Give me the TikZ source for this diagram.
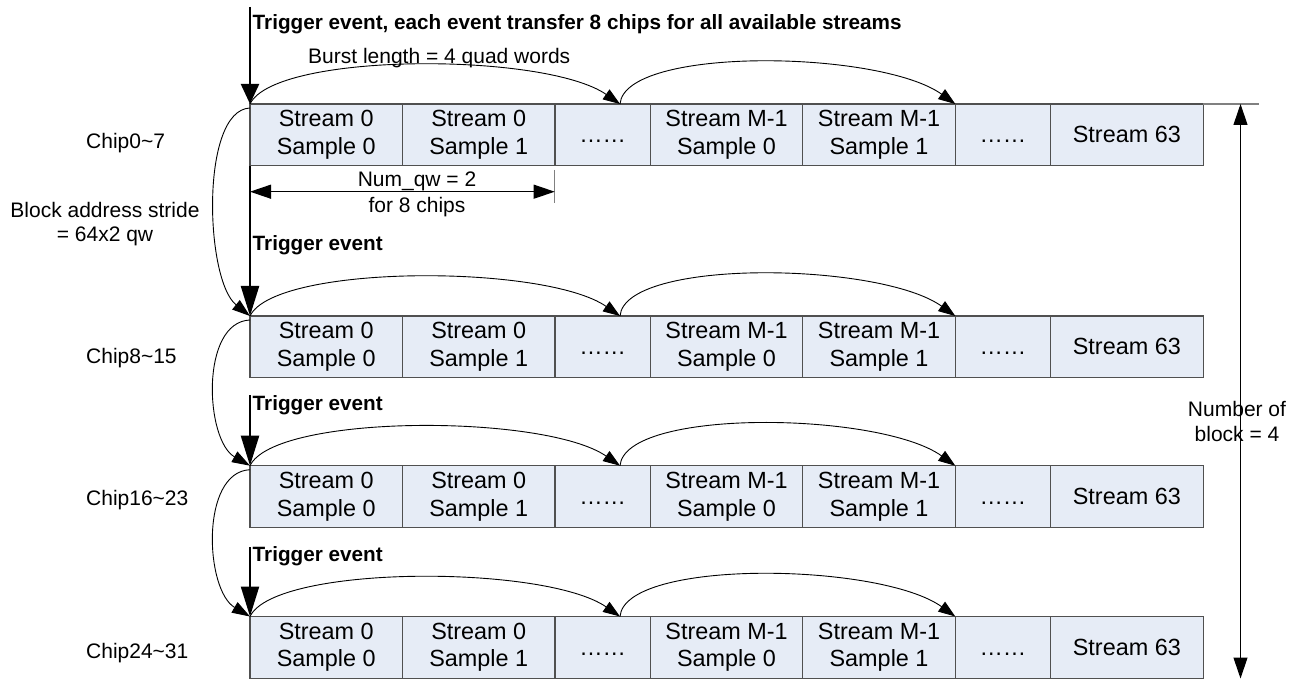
\documentclass[tikz,border=0pt]{standalone}
\usepackage{fontspec}
\setmainfont{Liberation Sans}
\usetikzlibrary{arrows.meta}
\definecolor{cellfill}{RGB}{230,236,246}
\definecolor{cellline}{RGB}{80,80,80}
\definecolor{extline}{RGB}{128,128,128}

\begin{document}
\begin{tikzpicture}[x=1pt,y=-1pt,
  cell/.style={draw=cellline, line width=1.1pt, fill=cellfill,
    minimum height=61.7pt, inner sep=0pt, outer sep=0pt, align=center,
    anchor=north west, font=\fontsize{23.4}{27.7}\selectfont},
  wide/.style={minimum width=152.5pt},
  narrow/.style={minimum width=95.3pt},
  lbl/.style={font=\fontsize{21}{25}\selectfont, inner sep=0pt},
  blbl/.style={font=\fontsize{20.7}{25}\selectfont\bfseries, inner sep=0pt, anchor=base west},
  trig/.style={line width=2.2pt, -{Triangle[length=30pt,width=18pt]}},
  trigfirst/.style={line width=2.2pt, -{Triangle[length=20pt,width=18pt]}},
  burst/.style={line width=0.9pt, -{Triangle[length=17pt,width=12pt]}},
  stride/.style={line width=0.9pt, -{Triangle[length=18pt,width=12pt]}},
  dimline/.style={line width=1.1pt,
    {Triangle[length=21pt,width=14pt]}-{Triangle[length=21pt,width=14pt]}},
  tickline/.style={draw=extline, line width=1.1pt}]

\useasboundingbox (0,0) rectangle (1299,679);

% one row of quad words per block of 8 chips
\foreach \row/\yy/\chip/\cb in {1/104/Chip0\textasciitilde 7/149,
                                2/316/Chip8\textasciitilde 15/363,
                                3/465.7/Chip16\textasciitilde 23/505.7,
                                4/616.5/Chip24\textasciitilde 31/658}{
  \node[cell,wide]   (r\row-c1) at (250,\yy) {Stream 0\\Sample 0};
  \node[cell,wide]   (r\row-c2) at (r\row-c1.north east) {Stream 0\\Sample 1};
  \node[cell,narrow] (r\row-c3) at (r\row-c2.north east) {\vphantom{S}……};
  \node[cell,wide]   (r\row-c4) at (r\row-c3.north east) {Stream M-1\\Sample 0};
  \node[cell,wide]   (r\row-c5) at (r\row-c4.north east) {Stream M-1\\Sample 1};
  \node[cell,narrow] (r\row-c6) at (r\row-c5.north east) {\vphantom{S}……};
  \node[cell,wide]   (r\row-c7) at (r\row-c6.north east) {Stream 63};
  \node[lbl, anchor=base west] (chip\row) at (86,\cb) {\chip};
  % burst transfers along the row
  \coordinate (m\row) at (620,\yy);
  \draw[burst] (r\row-c1.north west) .. controls (275,\yy-52) and (545,\yy-52) .. (m\row);
  \draw[burst] (m\row) .. controls (625,\yy-58) and (880,\yy-54) .. (r\row-c5.north east);
}

% trigger events
\coordinate (t1) at (250,7);
\coordinate (t3) at (250,395);
\coordinate (t4) at (250,547);
\draw[trigfirst] (t1) -- (r1-c1.north west);
\draw[trig] (r1-c1.south west) -- (r2-c1.north west);
\draw[trig] (t3) -- (r3-c1.north west);
\draw[trig] (t4) -- (r4-c1.north west);

\node[blbl] (trg1) at (252.5,30) {Trigger event, each event transfer 8 chips for all available streams};
\node[blbl] (trg2) at (252.5,250.7) {Trigger event};
\node[blbl] (trg3) at (252.5,410) {Trigger event};
\node[blbl] (trg4) at (252.5,561.7) {Trigger event};

\node[lbl, anchor=base west] (burstlbl) at (308,63.3) {Burst length = 4 quad words};

% block address stride
\draw[stride] ([yshift=-4pt]r1-c1.north west) .. controls (200,110) and (205,280) .. (r2-c1.north west);
\draw[stride] ([yshift=-4pt]r2-c1.north west) .. controls (200,322) and (205,440) .. (r3-c1.north west);
\draw[stride] ([yshift=-4pt]r3-c1.north west) .. controls (200,472) and (205,590) .. (r4-c1.north west);
\node[lbl, anchor=base] (stride1) at (105,218) {Block address stride};
\node[lbl, anchor=base] (stride2) at (105,242) {= 64x2 qw};

% Num_qw span
\coordinate (q0) at (250,191.7);
\coordinate (q1) at (554.7,191.7);
\coordinate (qa) at (554.7,170);
\coordinate (qb) at (554.7,203);
\draw[tickline] (qa) -- (qb);
\draw[dimline] (q0) -- (q1);
\node[lbl, anchor=base] (nq1) at (417,186.5) {Num\_qw = 2};
\node[lbl, anchor=base] (nq2) at (417,213) {for 8 chips};

% number of blocks
\coordinate (xe) at (1259,104);
\draw[tickline] (r1-c7.north east) -- (xe);
\coordinate (nt) at (1240.5,104);
\coordinate (nb) at (1240.5,678.5);
\node[lbl, anchor=base] (nb1) at (1237,416.7) {Number of};
\node[lbl, anchor=base] (nb2) at (1237,441.7) {block = 4};
\draw[dimline] (nt) -- (nb);
\end{tikzpicture}
\end{document}
